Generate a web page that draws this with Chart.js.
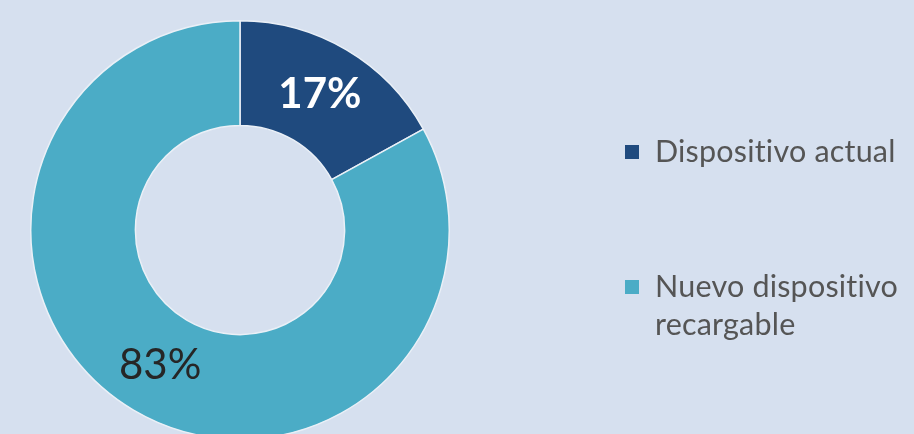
<!DOCTYPE html>
<html lang="es">
<head>
<meta charset="utf-8">
<title>Dispositivo</title>
<script src="https://cdn.jsdelivr.net/npm/chart.js@4.4.1/dist/chart.umd.min.js"></script>
<style>
    html, body {
        margin: 0;
        padding: 0;
        width: 914px;
        height: 434px;
        overflow: hidden;
        background: #d6e0ef;
        font-family: Lato, "Open Sans", sans-serif;
    }
    #wrap {
        position: absolute;
        left: 0;
        top: 0;
        width: 914px;
        height: 440px;
    }
    #legend {
        position: absolute;
        left: 625px;
        top: 0;
    }
    .item {
        position: absolute;
        left: 0;
        white-space: nowrap;
    }
    .box {
        position: absolute;
        left: 0;
        width: 14px;
        height: 14px;
    }
    .txt {
        position: absolute;
        left: 30px;
        top: 0;
        font-size: 30.5px;
        line-height: 38px;
        color: #555555;
        font-variant-ligatures: none;
        font-feature-settings: "liga" 0;
        letter-spacing: 0.2px;
    }
</style>
</head>
<body>
<div id="wrap"><canvas id="donut"></canvas></div>
<div id="legend"></div>

<script>
const categories = ['Dispositivo actual', ['Nuevo dispositivo', 'recargable']];
const shares = [17, 83];
const sliceColors = ['#1f4a7e', '#4bacc6'];
const labelColors = ['#ffffff', '#262626'];
const labelWeights = ['bold', 'normal'];

// etiquetas de porcentaje sobre cada sector
const sliceLabels = {
    id: 'sliceLabels',
    afterDatasetsDraw(chart) {
        const ctx = chart.ctx;
        const meta = chart.getDatasetMeta(0);
        ctx.save();
        ctx.textAlign = 'center';
        ctx.textBaseline = 'middle';
        meta.data.forEach((arc, i) => {
            const pos = arc.tooltipPosition();
            ctx.font = labelWeights[i] + ' 42px Lato, "Open Sans", sans-serif';
            ctx.fillStyle = labelColors[i];
            ctx.fillText(shares[i] + '%', pos.x, pos.y);
        });
        ctx.restore();
    }
};

const chart = new Chart(document.getElementById('donut'), {
    type: 'doughnut',
    data: {
        labels: categories,
        datasets: [{
            data: shares,
            backgroundColor: sliceColors,
            borderColor: '#eaf0f7',
            borderWidth: 1.5
        }]
    },
    options: {
        responsive: true,
        maintainAspectRatio: false,
        animation: false,
        cutout: '50%',
        layout: {
            padding: { top: 20, left: 30, right: 464, bottom: 0 }
        },
        plugins: {
            legend: { display: false },
            tooltip: { enabled: false }
        }
    },
    plugins: [sliceLabels]
});

// leyenda en HTML
const legendTops = [131, 266];
const legend = document.getElementById('legend');
categories.forEach((cat, i) => {
    const lines = Array.isArray(cat) ? cat : [cat];
    const item = document.createElement('div');
    item.className = 'item';
    item.style.top = legendTops[i] + 'px';
    const box = document.createElement('div');
    box.className = 'box';
    box.style.top = '14px';
    box.style.background = sliceColors[i];
    const txt = document.createElement('div');
    txt.className = 'txt';
    txt.innerHTML = lines.join('<br>');
    item.appendChild(box);
    item.appendChild(txt);
    legend.appendChild(item);
});
</script>
</body>
</html>
